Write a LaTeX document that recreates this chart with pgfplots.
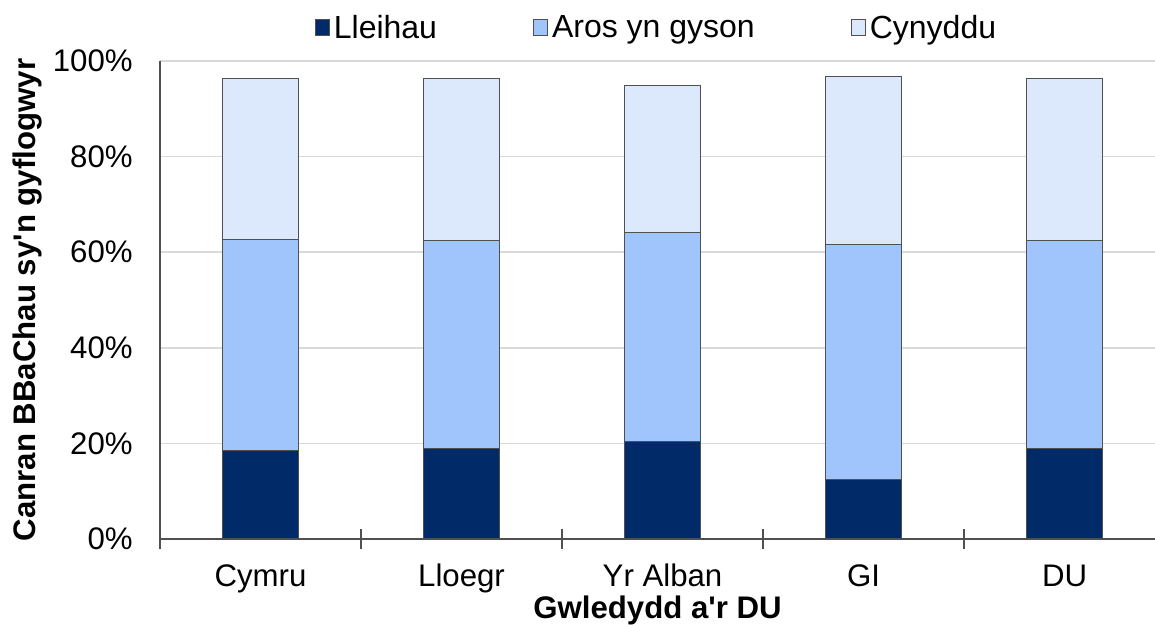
\documentclass[border=0pt]{standalone}
\usepackage{fontspec}
\setmainfont{Liberation Sans}
\newfontfamily\plain{Liberation Sans}
\usepackage{pgfplots}
\pgfplotsset{compat=1.18}
\definecolor{cdark}{RGB}{0,42,104}
\definecolor{cmid}{RGB}{160,197,252}
\definecolor{clight}{RGB}{220,233,252}
\definecolor{cedge}{RGB}{80,80,80}
\definecolor{cgrid}{RGB}{217,217,217}
\begin{document}
\begin{tikzpicture}
\begin{axis}[
  scale only axis,
  width=497.5pt, height=239pt,
  ybar stacked, bar width=38pt,
  xmin=-0.5, xmax=4.45,
  ymin=0, ymax=100,
  xtick={0,1,2,3,4},
  xticklabels={Cymru,Lloegr,Yr Alban,GI,DU},
  major x tick style={draw=none},
  minor xtick={-0.5,0.5,1.5,2.5,3.5},
  minor x tick style={draw=cedge, line width=0.6pt},
  minor tick length=10pt,
  tick align=center,
  ytick={0,20,40,60,80,100},
  yticklabel={\pgfmathprintnumber{\tick}\%},
  major y tick style={draw=none},
  ymajorgrids, grid style={cgrid, line width=0.8pt},
  axis x line*=bottom, axis y line*=left,
  axis line style={cedge, line width=0.6pt, -},
  every axis plot/.append style={draw=cedge, line width=0.5pt},
  tick label style={font=\fontsize{15.6}{17}\selectfont},
  /pgf/number format/assume math mode=true,
  yticklabel style={xshift=-8pt},
  xticklabel style={inner sep=0pt, anchor=base, yshift=-21.5pt},
  xlabel={\plain\bfseries Gwledydd a'r DU},
  ylabel={\plain\bfseries Canran BBaChau sy'n gyflogwyr},
  label style={font=\fontsize{15.6}{17}\selectfont},
  xlabel style={at={(axis description cs:0.5,-0.150)}, anchor=center, inner sep=0pt},
  ylabel style={at={(axis description cs:-0.1327,0.5)}, anchor=center},
  legend columns=3,
  legend style={at={(0.5,1)}, anchor=center, yshift=16.5pt, draw=none,
    font=\fontsize{16}{17}\selectfont,
    /tikz/every even column/.append style={column sep=46pt}},
  legend image code/.code={\draw[#1, line width=0.5pt] (0pt,-4pt) rectangle (7pt,4pt);},
]
\addplot[fill=cdark] coordinates {(0,18.5) (1,19.0) (2,20.5) (3,12.5) (4,19.0)};
\addplot[fill=cmid] coordinates {(0,44.1) (1,43.4) (2,43.7) (3,49.2) (4,43.4)};
\addplot[fill=clight] coordinates {(0,33.8) (1,34.0) (2,30.6) (3,35.0) (4,34.0)};
\legend{Lleihau,Aros yn gyson,Cynyddu}
\coordinate (bl) at (rel axis cs:0,0);
\coordinate (tr) at (rel axis cs:1,1);
\end{axis}
\pgfresetboundingbox
\path[use as bounding box] ([xshift=-80pt,yshift=-43pt]bl) rectangle ([yshift=30.5pt]tr);
\end{tikzpicture}
\end{document}
